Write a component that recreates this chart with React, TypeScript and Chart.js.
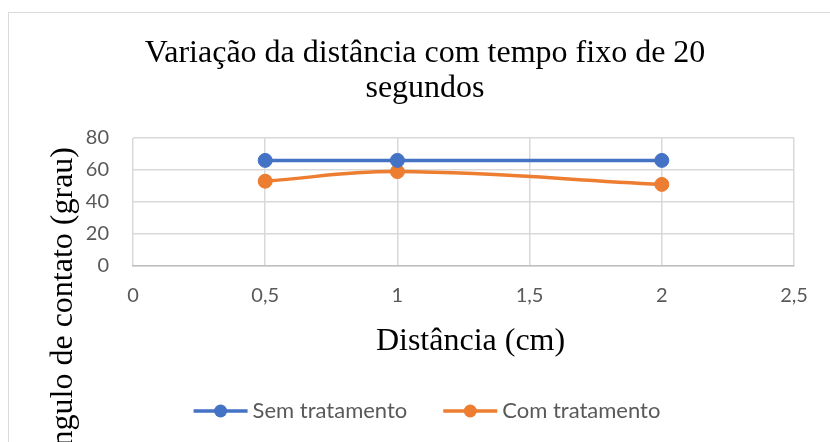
import { useEffect, useRef } from 'react';
import { Chart, registerables } from 'chart.js';

Chart.register(...registerables);

// Data
const chartTitle = ['Variação da distância com tempo fixo de 20', 'segundos'];
const xAxisTitle = 'Distância (cm)';
const yAxisTitle = 'Ângulo de contato (grau)';
const distances = [0.5, 1, 2];
const semTratamento = [66, 66, 66];
const comTratamento = [53, 59, 51];
const seriesNames = ['Sem tratamento', 'Com tratamento'];
const xTickLabels = ['0', '0,5', '1', '1,5', '2', '2,5'];

const BLUE = '#4472C4';
const ORANGE = '#ED7D31';
const GRID = '#d9d9d9';
const TICK_COLOR = '#595959';
const SANS = 'Lato, "Open Sans", sans-serif';
const SERIF = '"Liberation Serif", "Times New Roman", serif';

const toPoints = (ys: number[]) => distances.map((x, i) => ({ x, y: ys[i] }));

const decorPlugin = {
  id: 'decor',
  beforeDraw(chart: any) {
    const ctx = chart.ctx as CanvasRenderingContext2D;
    ctx.save();
    ctx.fillStyle = '#ffffff';
    ctx.fillRect(0, 0, chart.width, chart.height);
    ctx.strokeStyle = GRID;
    ctx.lineWidth = 1;
    ctx.strokeRect(8.5, 12.5, chart.width + 50, chart.height + 50);
    ctx.restore();
  },
  afterDraw(chart: any) {
    const ctx = chart.ctx as CanvasRenderingContext2D;
    const area = chart.chartArea;
    ctx.save();

    // Chart title
    ctx.fillStyle = '#000000';
    ctx.font = `32px ${SERIF}`;
    ctx.textAlign = 'center';
    ctx.textBaseline = 'alphabetic';
    chartTitle.forEach((line, i) => ctx.fillText(line, 425, 62 + i * 35));

    // X axis title
    ctx.fillText(xAxisTitle, (area.left + area.right) / 2 + 7, 350);

    // Y axis title (rotated)
    ctx.save();
    ctx.translate(72, 147);
    ctx.rotate(-Math.PI / 2);
    ctx.textAlign = 'right';
    ctx.fillText(yAxisTitle, 0, 0);
    ctx.restore();

    // Legend: line with marker, then the series name
    ctx.font = `22px ${SANS}`;
    ctx.textAlign = 'left';
    const lineLen = 54;
    const gapText = 5;
    const gapItems = 36;
    const items = chart.data.datasets.map((ds: any) => ({
      label: ds.label as string,
      color: ds.borderColor as string,
      w: lineLen + gapText + ctx.measureText(ds.label).width,
    }));
    const total = items.reduce((s: number, it: any) => s + it.w, 0) + gapItems * (items.length - 1);
    let x = 427 - total / 2;
    const ly = 411;
    items.forEach((it: any) => {
      ctx.strokeStyle = it.color;
      ctx.lineWidth = 3.5;
      ctx.beginPath();
      ctx.moveTo(x, ly);
      ctx.lineTo(x + lineLen, ly);
      ctx.stroke();
      ctx.fillStyle = it.color;
      ctx.beginPath();
      ctx.arc(x + lineLen / 2, ly, 6.5, 0, Math.PI * 2);
      ctx.fill();
      ctx.fillStyle = TICK_COLOR;
      ctx.textBaseline = 'alphabetic';
      ctx.fillText(it.label, x + lineLen + gapText, 418);
      x += it.w + gapItems;
    });

    ctx.restore();
  },
};

export default function App() {
  const canvasRef = useRef<HTMLCanvasElement>(null);

  useEffect(() => {
    const canvas = canvasRef.current;
    if (!canvas) return;
    const chart = new Chart(canvas, {
      type: 'line',
      data: {
        datasets: [
          {
            label: seriesNames[0],
            data: toPoints(semTratamento),
            borderColor: BLUE,
            backgroundColor: BLUE,
            pointBackgroundColor: BLUE,
            pointBorderColor: BLUE,
            borderWidth: 3.5,
            pointRadius: 7,
            pointBorderWidth: 1,
            tension: 0,
          },
          {
            label: seriesNames[1],
            data: toPoints(comTratamento),
            borderColor: ORANGE,
            backgroundColor: ORANGE,
            pointBackgroundColor: ORANGE,
            pointBorderColor: ORANGE,
            borderWidth: 3.5,
            pointRadius: 7,
            pointBorderWidth: 1,
            tension: 0.4,
          },
        ],
      },
      options: {
        animation: false,
        responsive: true,
        maintainAspectRatio: false,
        layout: { padding: { left: 73, right: 36, top: 138, bottom: 126 } },
        plugins: {
          legend: { display: false },
          title: { display: false },
          tooltip: { enabled: false },
        },
        scales: {
          x: {
            type: 'linear',
            min: 0,
            max: 2.5,
            afterFit: (scale: any) => {
              scale.height = 50;
            },
            ticks: {
              stepSize: 0.5,
              padding: 18,
              color: TICK_COLOR,
              font: { family: SANS, size: 20 },
              callback: (value: any) => xTickLabels[Math.round(Number(value) / 0.5)],
            },
            grid: { color: GRID, lineWidth: 1.5, drawTicks: false },
            border: { color: '#bfbfbf', width: 1.5 },
          },
          y: {
            type: 'linear',
            min: 0,
            max: 80,
            afterFit: (scale: any) => {
              scale.width = 60;
            },
            ticks: {
              stepSize: 20,
              padding: 24,
              color: TICK_COLOR,
              font: { family: SANS, size: 20 },
            },
            grid: { color: GRID, lineWidth: 1.5, drawTicks: false },
            border: { display: false },
          },
        },
      },
      plugins: [decorPlugin],
    });
    return () => chart.destroy();
  }, []);

  return (
    <div style={{ position: 'absolute', left: 0, top: 0, width: 830, height: 442, background: '#ffffff' }}>
      <canvas ref={canvasRef} />
    </div>
  );
}
